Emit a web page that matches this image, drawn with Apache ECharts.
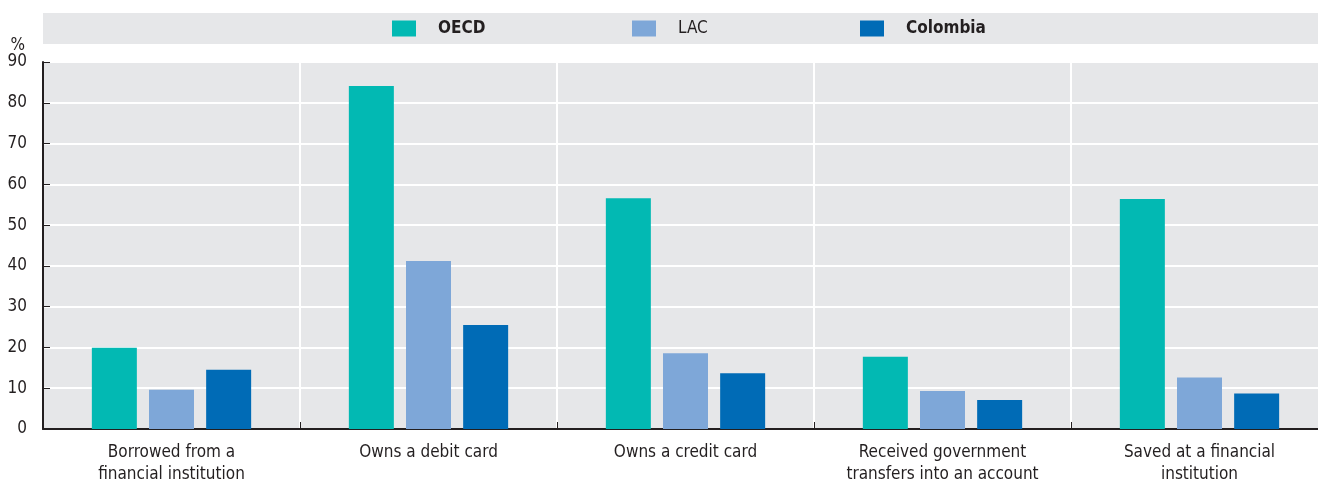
<!DOCTYPE html>
<html>
<head>
<meta charset="utf-8">
<style>
  html, body { margin: 0; padding: 0; background: #ffffff; }
  #chart { width: 1318px; height: 483px; }
</style>
<script src="https://cdn.jsdelivr.net/npm/echarts@6/dist/echarts.min.js"></script>
</head>
<body>
<div id="chart"></div>
<script>
// Financial inclusion indicators, % of adults
const categories = [
  'Borrowed from a\nfinancial institution',
  'Owns a debit card',
  'Owns a credit card',
  'Received government\ntransfers into an account',
  'Saved at a financial\ninstitution'
];
const oecd     = [19.9, 84.1, 56.6, 17.7, 56.4];
const lac      = [9.6, 41.2, 18.6, 9.3, 12.6];
const colombia = [14.5, 25.5, 13.7, 7.1, 8.7];
const yTicks = { min: 0, max: 90, step: 10 };

const FONT = "'Liberation Sans Narrow', 'Arial Narrow', 'DejaVu Sans Condensed', sans-serif";
const TEXT = '#231f20';
const PANEL = '#e6e7e9';
const COLORS = { oecd: '#02b9b3', lac: '#7ea7d8', col: '#006bb6' };

const chart = echarts.init(document.getElementById('chart'), null, { renderer: 'canvas' });

function legendFor(name, left, bold) {
  return {
    data: [{ name: name, icon: 'rect' }],
    left: left,
    top: 20,
    itemWidth: 24,
    itemHeight: 16,
    padding: 0,
    selectedMode: false,
    itemStyle: { borderWidth: 0 },
    textStyle: {
      fontFamily: FONT, fontSize: 17, color: TEXT,
      fontWeight: bold ? 'bold' : 'normal',
      padding: [0, 0, 0, 17]
    }
  };
}

chart.setOption({
  animation: false,
  textStyle: { fontFamily: FONT },
  graphic: [{
    type: 'rect', z: -1, silent: true,
    shape: { x: 43, y: 13, width: 1275, height: 31 },
    style: { fill: PANEL }
  }],
  legend: [
    legendFor('OECD', 392, true),
    legendFor('LAC', 632, false),
    legendFor('Colombia', 860, true)
  ],
  grid: {
    left: 43, top: 62, width: 1285, height: 367,
    outerBoundsMode: 'none',
    containLabel: false,
    show: true, backgroundColor: PANEL, borderWidth: 0
  },
  xAxis: {
    type: 'category',
    data: categories,
    axisLine: { lineStyle: { color: '#231f20', width: 2 } },
    axisTick: { show: true, inside: true, length: 7, lineStyle: { color: '#231f20', width: 1 } },
    splitLine: { show: true, lineStyle: { color: '#ffffff', width: 2 } },
    axisLabel: {
      fontFamily: FONT, fontSize: 17, color: TEXT,
      lineHeight: 22, margin: 13, interval: 0
    }
  },
  yAxis: {
    type: 'value',
    min: yTicks.min, max: yTicks.max, interval: yTicks.step,
    name: '%',
    nameLocation: 'end',
    nameGap: 8,
    nameTextStyle: { fontFamily: FONT, fontSize: 17, color: TEXT, align: 'right', padding: [0, 18, 0, 0] },
    axisLine: { show: true, lineStyle: { color: '#231f20', width: 2 } },
    axisTick: { show: true, inside: true, length: 7, lineStyle: { color: '#231f20', width: 1 } },
    splitLine: { show: true, lineStyle: { color: '#ffffff', width: 2 } },
    axisLabel: { fontFamily: FONT, fontSize: 17, color: TEXT, margin: 16 }
  },
  series: [
    { name: 'OECD', type: 'bar', data: oecd, barWidth: 45, barGap: '27%', itemStyle: { color: COLORS.oecd } },
    { name: 'LAC', type: 'bar', data: lac, barWidth: 45, barGap: '27%', itemStyle: { color: COLORS.lac } },
    { name: 'Colombia', type: 'bar', data: colombia, barWidth: 45, barGap: '27%', itemStyle: { color: COLORS.col } }
  ]
});
</script>
</body>
</html>
